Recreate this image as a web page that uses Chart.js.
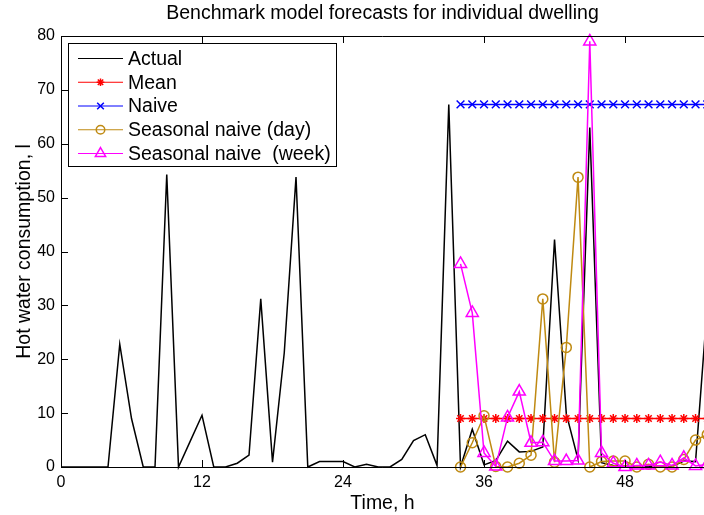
<!DOCTYPE html>
<html lang="en">
<head>
<meta charset="UTF-8">
<title>Benchmark model forecasts</title>
<script src="https://cdn.jsdelivr.net/npm/chart.js"></script>
<style>
  body { margin: 0; background: #fff; overflow: hidden; }
  canvas { display: block; }
</style>
</head>
<body>
<canvas id="forecastChart" width="704" height="515"></canvas>
<script>
// hourly data
const actualHours = [0, 1, 2, 3, 4, 5, 6, 7, 8, 9, 10, 11, 12, 13, 14, 15, 16, 17, 18, 19,
    20, 21, 22, 23, 24, 25, 26, 27, 28, 29, 30, 31, 32, 33, 34, 35, 36, 37, 38, 39,
    40, 41, 42, 43, 44, 45, 46, 47, 48, 49, 50, 51, 52, 53, 54, 55];
const actualValues = [0, 0, 0, 0, 0, 22.8, 9.0, 0, 0, 54.3, 0, 4.8, 9.6, 0, 0, 0.7, 2.2, 31.2, 0.9, 21.2,
    53.8, 0, 1.0, 1.0, 1.0, 0, 0.5, 0, 0, 1.4, 4.9, 6.0, 0.3, 67.3, 0, 7.0, 0.4, 1.2, 4.8, 2.8,
    2.9, 3.7, 42.2, 9.9, 1.4, 63.0, 0.8, 0.3, 0.1, 0.1, 0.2, 0.1, 0.1, 1.1, 1.0, 30.0];

const forecastHours = [34, 35, 36, 37, 38, 39, 40, 41, 42, 43, 44, 45, 46, 47, 48, 49, 50, 51, 52, 53, 54, 55];
const meanValues = [9.0, 9.0, 9.0, 9.0, 9.0, 9.0, 9.0, 9.0, 9.0, 9.0, 9.0,
    9.0, 9.0, 9.0, 9.0, 9.0, 9.0, 9.0, 9.0, 9.0, 9.0, 9.0];
const naiveValues = [67.3, 67.3, 67.3, 67.3, 67.3, 67.3, 67.3, 67.3, 67.3, 67.3, 67.3,
    67.3, 67.3, 67.3, 67.3, 67.3, 67.3, 67.3, 67.3, 67.3, 67.3, 67.3];
const dayValues = [0, 4.5, 9.5, 0.1, 0, 0.7, 2.2, 31.2, 0.9, 22.2, 53.8,
    0, 1.0, 1.1, 1.1, 0, 0.5, 0, 0, 1.4, 5.0, 6.0];
const weekValues = [37.7, 28.6, 2.6, 0.1, 9.2, 14.0, 4.5, 4.6, 1.1, 1.1, 1.2,
    79.0, 2.6, 0.7, 0, 0.3, 0.3, 0.9, 0.3, 1.7, 0.2, 0.5];

const xTickValues = [0, 12, 24, 36, 48];
const yTickValues = [0, 10, 20, 30, 40, 50, 60, 70, 80];

const FONT = "'Liberation Sans', Arial, Helvetica, sans-serif";
const LABEL_SIZE = 19.5;

function toPoints(xs, ys) {
    return xs.map((x, i) => ({ x: x, y: ys[i] }));
}

// the original axes run past the right edge of the picture
const stretchRight = {
    id: 'stretchRight',
    afterLayout(chart) {
        const xs = chart.scales.x;
        const extra = chart.width - chart.chartArea.right;
        if (extra <= 0) return;
        chart.chartArea.right += extra;
        chart.chartArea.width += extra;
        xs.right += extra;
        xs.width += extra;
        xs.configure();
        if (chart.titleBlock) {
            chart.titleBlock.right += extra;
            chart.titleBlock.width += extra;
        }
    }
};

// matlab style box with ticks pointing inwards
const axesFrame = {
    id: 'axesFrame',
    afterDatasetsDraw(chart) {
        const ctx = chart.ctx;
        const a = chart.chartArea;
        const xs = chart.scales.x, ys = chart.scales.y;
        ctx.save();
        ctx.strokeStyle = '#000';
        ctx.lineWidth = 1;
        ctx.beginPath();
        ctx.moveTo(a.left + 0.5, a.top + 0.5);
        ctx.lineTo(chart.width, a.top + 0.5);
        ctx.moveTo(a.left + 0.5, a.top + 0.5);
        ctx.lineTo(a.left + 0.5, a.bottom + 0.5);
        ctx.lineTo(chart.width, a.bottom + 0.5);
        xTickValues.forEach(v => {
            const px = Math.round(xs.getPixelForValue(v)) + 0.5;
            ctx.moveTo(px, a.bottom);
            ctx.lineTo(px, a.bottom - 7);
            ctx.moveTo(px, a.top);
            ctx.lineTo(px, a.top + 7);
        });
        yTickValues.forEach(v => {
            const py = Math.round(ys.getPixelForValue(v)) + 0.5;
            ctx.moveTo(a.left, py);
            ctx.lineTo(a.left + 7, py);
        });
        ctx.stroke();
        ctx.restore();
    }
};

// legend with line + marker samples
const legendBox = {
    id: 'legendBox',
    afterDraw(chart) {
        const ctx = chart.ctx;
        ctx.save();
        ctx.fillStyle = '#fff';
        ctx.fillRect(68.5, 43.5, 268, 123);
        ctx.strokeStyle = '#000';
        ctx.lineWidth = 1;
        ctx.strokeRect(68.5, 43.5, 268, 123);
        chart.data.datasets.forEach((ds, i) => {
            const y = 58.5 + i * 23.75;
            ctx.strokeStyle = ds.borderColor;
            ctx.lineWidth = 1;
            ctx.beginPath();
            ctx.moveTo(78, y);
            ctx.lineTo(123, y);
            ctx.stroke();
            if (ds.pointRadius > 0) {
                ctx.fillStyle = 'rgba(0,0,0,0)';
                ctx.lineWidth = ds.pointBorderWidth;
                Chart.helpers.drawPoint(ctx, {
                    pointStyle: ds.pointStyle,
                    radius: ds.pointRadius * 0.85,
                    rotation: 0,
                    borderWidth: ds.pointBorderWidth
                }, 100.5, y);
            }
            ctx.fillStyle = '#000';
            ctx.font = LABEL_SIZE + 'px ' + FONT;
            ctx.textBaseline = 'middle';
            ctx.textAlign = 'left';
            ctx.fillText(ds.label, 128, y + 1);
        });
        ctx.restore();
    }
};

const ctx = document.getElementById('forecastChart').getContext('2d');
const chart = new Chart(ctx, {
    type: 'line',
    data: {
        datasets: [
            {
                label: 'Actual',
                data: toPoints(actualHours, actualValues),
                borderColor: '#000000',
                borderWidth: 1.5,
                pointRadius: 0,
                clip: false,
                order: 5
            },
            {
                label: 'Mean',
                data: toPoints(forecastHours, meanValues),
                borderColor: '#ff0000',
                borderWidth: 1.5,
                pointStyle: 'star',
                pointRadius: 4.5,
                pointBorderWidth: 1.5,
                pointBorderColor: '#ff0000',
                clip: false,
                order: 4
            },
            {
                label: 'Naive',
                data: toPoints(forecastHours, naiveValues),
                borderColor: '#0000ff',
                borderWidth: 1.5,
                pointStyle: 'crossRot',
                pointRadius: 5.5,
                pointBorderWidth: 1.5,
                pointBorderColor: '#0000ff',
                clip: false,
                order: 3
            },
            {
                label: 'Seasonal naive (day)',
                data: toPoints(forecastHours, dayValues),
                borderColor: '#bf8a12',
                borderWidth: 1.5,
                pointStyle: 'circle',
                pointRadius: 5,
                pointBorderWidth: 1.5,
                pointBorderColor: '#bf8a12',
                pointBackgroundColor: 'rgba(0,0,0,0)',
                clip: false,
                order: 2
            },
            {
                label: 'Seasonal naive  (week)',
                data: toPoints(forecastHours, weekValues),
                borderColor: '#ff00ff',
                borderWidth: 1.5,
                pointStyle: 'triangle',
                pointRadius: 7,
                pointBorderWidth: 1.5,
                pointBorderColor: '#ff00ff',
                pointBackgroundColor: 'rgba(0,0,0,0)',
                clip: false,
                order: 1
            }
        ]
    },
    options: {
        responsive: false,
        animation: false,
        events: [],
        layout: { padding: 0 },
        elements: { line: { tension: 0 } },
        plugins: {
            legend: { display: false },
            tooltip: { enabled: false },
            title: {
                display: true,
                fullSize: false,
                text: 'Benchmark model forecasts for individual dwelling',
                color: '#000',
                font: { family: FONT, size: LABEL_SIZE, weight: 'normal' },
                padding: { top: 2, bottom: 10.6 }
            }
        },
        scales: {
            x: {
                type: 'linear',
                min: 0,
                max: 54.72,
                afterBuildTicks: scale => { scale.ticks = xTickValues.map(v => ({ value: v })); },
                afterFit: scale => { scale.height = 48; scale.paddingLeft = 0; scale.paddingRight = 0; },
                grid: { display: false, drawTicks: false },
                border: { display: false },
                ticks: {
                    color: '#000',
                    padding: 6,
                    maxRotation: 0,
                    font: { family: FONT, size: 16 }
                },
                title: {
                    display: true,
                    text: 'Time, h',
                    color: '#000',
                    font: { family: FONT, size: LABEL_SIZE },
                    padding: { top: 0, bottom: 0 }
                }
            },
            y: {
                min: 0,
                max: 80,
                afterBuildTicks: scale => { scale.ticks = yTickValues.map(v => ({ value: v })); },
                afterFit: scale => { scale.width = 61; },
                grid: { display: false, drawTicks: false },
                border: { display: false },
                ticks: {
                    color: '#000',
                    padding: 6,
                    font: { family: FONT, size: 16 }
                },
                title: {
                    display: true,
                    text: 'Hot water consumption, l',
                    color: '#000',
                    font: { family: FONT, size: LABEL_SIZE },
                    padding: { top: 13, bottom: 0 }
                }
            }
        }
    },
    plugins: [stretchRight, axesFrame, legendBox]
});
</script>
</body>
</html>
